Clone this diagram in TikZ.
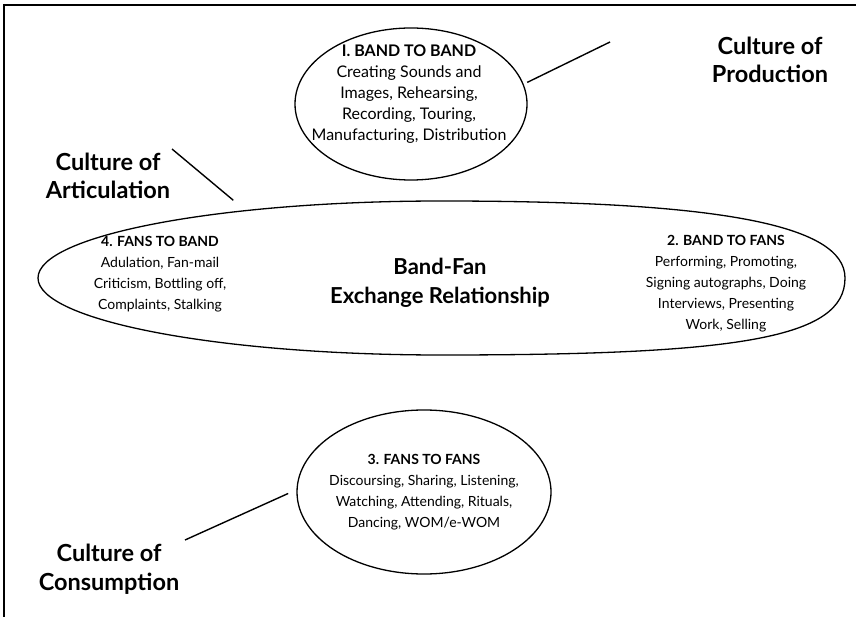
\documentclass[tikz,border=0pt]{standalone}
\usepackage{fontspec}
\setmainfont{Lato}
\usetikzlibrary{shapes.geometric}
\begin{document}
\begin{tikzpicture}[x=1pt,y=-1pt,
  oval/.style={draw,ellipse,line width=1.3pt,inner sep=0pt},
  body/.style={align=center,font=\fontsize{14}{21}\selectfont},
  bodybig/.style={align=center,font=\fontsize{16}{21}\selectfont},
  culture/.style={align=center,font=\fontsize{23.5}{28.5}\selectfont\bfseries},
  centre/.style={align=center,font=\fontsize{22}{29}\selectfont\bfseries},
  link/.style={line width=1.4pt}]
\useasboundingbox (0,0) rectangle (856,617);
\draw[line width=2pt] (4,5) -- (857,5);
\draw[line width=2pt] (4,4) -- (4,618);
% ellipses
\node[oval,minimum width=232pt,minimum height=152pt] (e1) at (411,104) {};
\node[ellipse,inner sep=0pt,minimum width=806pt,minimum height=154pt] (e2) at (441.5,278) {};
\draw[line width=1.3pt] (38,278) .. controls (38,235.5) and (218,201) .. (441.5,201)
  .. controls (715,201) and (845,224) .. (845,278)
  .. controls (845,338) and (740,355) .. (441.5,355)
  .. controls (218,355) and (38,320.5) .. cycle;
\node[oval,minimum width=254pt,minimum height=164pt] (e3) at (424,492) {};
% texts
\node[bodybig] (t1) at (409,94) {\textbf{I. BAND TO BAND}\\Creating Sounds and\\Images, Rehearsing,\\Recording, Touring,\\Manufacturing, Distribution};
\node[body] (t4) at (160,274) {\textbf{4. FANS TO BAND}\\Adulation, Fan-mail\\Criticism, Bottling off,\\Complaints, Stalking};
\node[body] (t2) at (726,284) {\textbf{2. BAND TO FANS}\\Performing, Promoting,\\Signing autographs, Doing\\Interviews, Presenting\\Work, Selling};
\node[body] (t3) at (424,492) {\textbf{3. FANS TO FANS}\\Discoursing, Sharing, Listening,\\Watching, Attending, Rituals,\\Dancing, WOM/e-WOM};
\node[centre] (ctr) at (440,283) {Band-Fan\\Exchange Relationship};
% labels
\node[culture] (lp) at (770,60) {Culture of\\Production};
\node[culture] (la) at (108,176) {Culture of\\Articulation};
\node[culture] (lc) at (109,569) {Culture of\\Consumption};
% connectors
\coordinate (cp) at (610,42);
\coordinate (ca) at (172,149);
\coordinate (cc) at (185,540);
\draw[link,shorten <=4pt] (e1.10) -- (cp);
\draw[link,shorten >=16pt] (ca) -- (e2.161);
\draw[link,shorten >=9pt] (cc) -- (e3.179);
\end{tikzpicture}
\end{document}
